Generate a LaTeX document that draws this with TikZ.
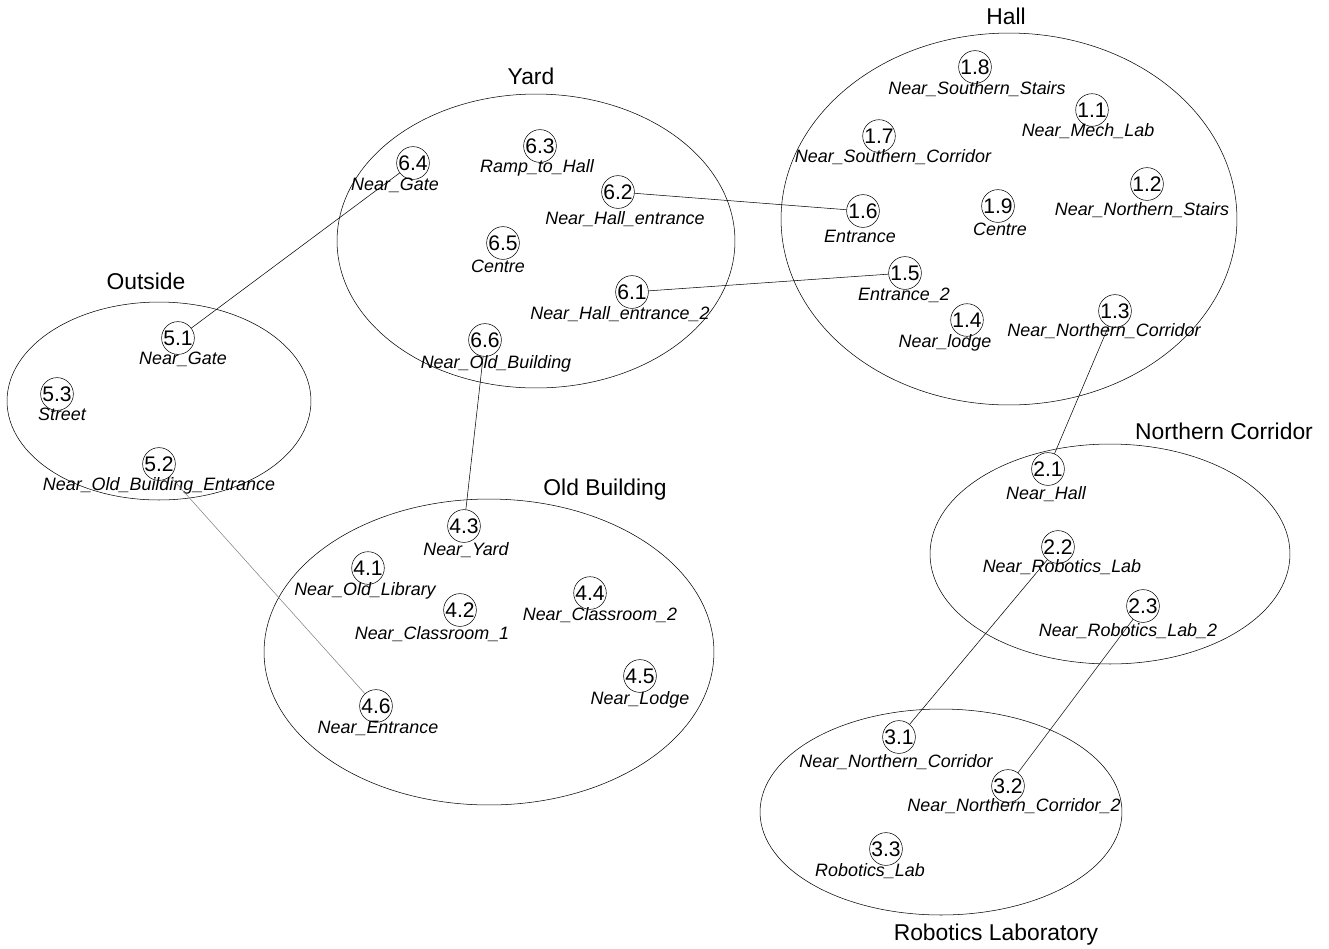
\documentclass[tikz,border=0pt]{standalone}
\usepackage{fontspec}
\setmainfont{Liberation Sans}
\begin{document}
\begin{tikzpicture}[x=0.02cm,y=-0.02cm,
  region/.style={draw,line width=0.3pt},
  title/.style={font=\fontsize{13}{15}\selectfont},
  num/.style={circle,draw,line width=0.3pt,minimum size=0.56cm,inner sep=0pt,font=\fontsize{12}{13}\selectfont},
  lab/.style={font=\fontsize{10.2}{12}\selectfont\itshape,inner sep=0pt},
  link/.style={line width=0.3pt},
  glink/.style={line width=0.3pt,gray}]
\useasboundingbox (0,0) rectangle (1329,948);
% regions
\draw[region] (159,401) ellipse [x radius=3.04cm, y radius=1.98cm];
\draw[region] (536,241) ellipse [x radius=3.98cm, y radius=2.94cm];
\draw[region] (1009,219) ellipse [x radius=4.56cm, y radius=3.72cm];
\draw[region] (1110,554) ellipse [x radius=3.60cm, y radius=2.20cm];
\draw[region] (489,652) ellipse [x radius=4.50cm, y radius=3.06cm];
\draw[region] (941,812) ellipse [x radius=3.62cm, y radius=2.06cm];
% titles
\node[title] (tOut) at (146,281) {Outside};
\node[title] (tYard) at (531,76) {Yard};
\node[title] (tHall) at (1006,16) {Hall};
\node[title] (tNC) at (1224,431) {Northern Corridor};
\node[title] (tOB) at (605,490) {Old Building};
\node[title] (tRL) at (996,935) {Robotics Laboratory};
% Outside
\node[num] (n51) at (178,338) {5.1}; \node[lab] (l51) at (183,359) {Near\_Gate};
\node[num] (n53) at (57,394) {5.3}; \node[lab] (l53) at (62,414) {Street};
\node[num] (n52) at (159,464) {5.2}; \node[lab] (l52) at (159,486) {Near\_Old\_Building\_Entrance};
% Yard
\node[num] (n64) at (413,163) {6.4}; \node[lab] (l64) at (395,185) {Near\_Gate};
\node[num] (n63) at (540,146) {6.3}; \node[lab] (l63) at (537,168) {Ramp\_to\_Hall};
\node[num] (n62) at (618,192) {6.2}; \node[lab] (l62) at (625,219) {Near\_Hall\_entrance};
\node[num] (n65) at (503,243) {6.5}; \node[lab] (l65) at (498,266) {Centre};
\node[num] (n61) at (632,292) {6.1}; \node[lab] (l61) at (620,314) {Near\_Hall\_entrance\_2};
\node[num] (n66) at (485,340) {6.6}; \node[lab] (l66) at (496,364) {Near\_Old\_Building};
% Hall
\node[num] (n18) at (975,67) {1.8}; \node[lab] (l18) at (977,89) {Near\_Southern\_Stairs};
\node[num] (n11) at (1092,110) {1.1}; \node[lab] (l11) at (1088,131) {Near\_Mech\_Lab};
\node[num] (n17) at (879,136) {1.7}; \node[lab] (l17) at (893,157) {Near\_Southern\_Corridor};
\node[num] (n12) at (1147,184) {1.2}; \node[lab] (l12) at (1142,210) {Near\_Northern\_Stairs};
\node[num] (n19) at (998,206) {1.9}; \node[lab] (l19) at (1000,229) {Centre};
\node[num] (n16) at (863,211) {1.6}; \node[lab] (l16) at (860,236) {Entrance};
\node[num] (n15) at (905,273) {1.5}; \node[lab] (l15) at (904,295) {Entrance\_2};
\node[num] (n14) at (967,320) {1.4}; \node[lab] (l14) at (945,343) {Near\_lodge};
\node[num] (n13) at (1115,311) {1.3}; \node[lab] (l13) at (1104,331) {Near\_Northern\_Corridor};
% Northern Corridor
\node[num] (n21) at (1048,469) {2.1}; \node[lab] (l21) at (1046,494) {Near\_Hall};
\node[num] (n22) at (1058,547) {2.2}; \node[lab] (l22) at (1062,567) {Near\_Robotics\_Lab};
\node[num] (n23) at (1143,606) {2.3}; \node[lab] (l23) at (1128,631) {Near\_Robotics\_Lab\_2};
% Old Building
\node[num] (n43) at (464,526) {4.3}; \node[lab] (l43) at (466,550) {Near\_Yard};
\node[num] (n41) at (368,568) {4.1}; \node[lab] (l41) at (365,591) {Near\_Old\_Library};
\node[num] (n42) at (460,610) {4.2}; \node[lab] (l42) at (432,634) {Near\_Classroom\_1};
\node[num] (n44) at (590,593) {4.4}; \node[lab] (l44) at (600,615) {Near\_Classroom\_2};
\node[num] (n45) at (640,676) {4.5}; \node[lab] (l45) at (640,700) {Near\_Lodge};
\node[num] (n46) at (376,706) {4.6}; \node[lab] (l46) at (378,728) {Near\_Entrance};
% Robotics Laboratory
\node[num] (n31) at (899,737) {3.1}; \node[lab] (l31) at (896,762) {Near\_Northern\_Corridor};
\node[num] (n32) at (1008,786) {3.2}; \node[lab] (l32) at (1014,806) {Near\_Northern\_Corridor\_2};
\node[num] (n33) at (886,849) {3.3}; \node[lab] (l33) at (870,871) {Robotics\_Lab};
% links
\draw[link] (n64) -- (n51);
\draw[link] (n62) -- (n16);
\draw[link] (n61) -- (n15);
\draw[link] (n66) -- (n43);
\draw[glink] (n52) -- (n46);
\draw[link] (n13) -- (n21);
\draw[link] (n22) -- (n31);
\draw[link] (n23) -- (n32);
\end{tikzpicture}
\end{document}
